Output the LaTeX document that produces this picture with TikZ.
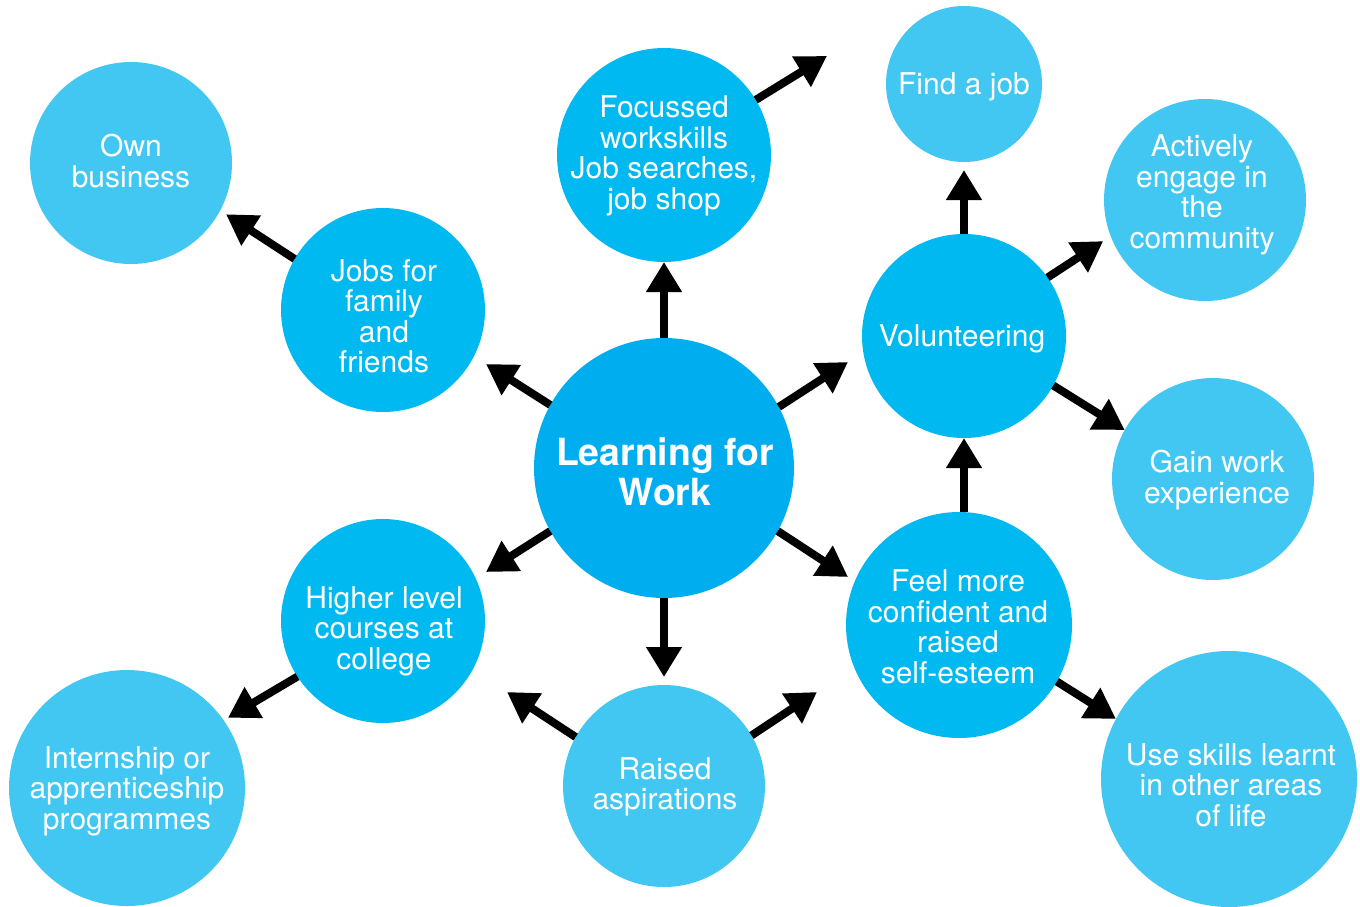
\documentclass[tikz,border=0pt]{standalone}
\usepackage{fontspec}
\setmainfont{TeX Gyre Heros}
\usetikzlibrary{arrows.meta}
\definecolor{cmain}{HTML}{00AEEF}
\definecolor{cinner}{HTML}{00B9F1}
\definecolor{couter}{HTML}{42C7F3}
\tikzset{
  bub/.style={circle, inner sep=0pt, outer sep=0pt, minimum size=#1},
  inner/.style={fill=cinner},
  outer/.style={fill=couter},
  txt/.style={text=white, align=center, inner sep=0pt, font=\fontsize{30}{30.5}\selectfont},
  arr/.style={line width=8pt, -{Triangle[length=30pt,width=34pt]}}
}
\begin{document}
\begin{tikzpicture}[x=1pt,y=-1pt]
\useasboundingbox (0,0) rectangle (1360,906);
% circles
\node[bub=260pt, fill=cmain] (lfw) at (664,468) {};
\node[bub=214pt, inner] (foc) at (664,155) {};
\node[bub=156pt, outer] (find) at (964,84) {};
\node[bub=202pt, outer] (act) at (1205,200) {};
\node[bub=204pt, inner] (vol) at (964,336) {};
\node[bub=202pt, outer] (gain) at (1213,479) {};
\node[bub=226pt, inner] (feel) at (959,625) {};
\node[bub=256pt, outer] (use) at (1229,779) {};
\node[bub=202pt, outer] (rais) at (664,786) {};
\node[bub=204pt, inner] (high) at (383,621) {};
\node[bub=236pt, outer] (intern) at (127,788) {};
\node[bub=204pt, inner] (jobs) at (383,310) {};
\node[bub=202pt, outer] (own) at (131,163) {};
% texts
\node[txt, font=\bfseries\fontsize{37.4}{40}\selectfont] (tlfw) at (665,472) {Learning for\\Work};
\node[txt] (tfoc) at (664,156) {Focussed\\workskills\\Job searches,\\job shop};
\node[txt] (tfind) at (964,87) {Find a job};
\node[txt] (tact) at (1202,195) {Actively\\engage in\\the\\community};
\node[txt] (tvol) at (962,339) {Volunteering};
\node[txt] (tgain) at (1217,480) {Gain work\\experience};
\node[txt] (tfeel) at (958,627) {Feel more\\confident and\\raised\\self-esteem};
\node[txt] (tuse) at (1231,785) {Use skills learnt\\in other areas\\of life};
\node[txt] (trais) at (665,787) {Raised\\aspirations};
\node[txt] (thigh) at (384,631) {Higher level\\courses at\\college};
\node[txt] (tintern) at (127,791) {Internship or\\apprenticeship\\programmes};
\node[txt] (tjobs) at (384,316) {Jobs for\\family\\and\\friends};
\node[txt] (town) at (131,161) {Own\\business};
% free tips
\coordinate (t2) at (848,362);
\coordinate (t3) at (848,577);
\coordinate (t5) at (486,572);
\coordinate (t6) at (486,364);
\coordinate (t7) at (827,56);
\coordinate (t10) at (507,692);
\coordinate (t11) at (817,692);
% arrows
\draw[arr] (lfw.north) -- (foc.south);
\draw[arr] (lfw.28) -- (t2);
\draw[arr] (lfw.-29) -- (t3);
\draw[arr, shorten >=8pt] (lfw.south) -- (rais.north);
\draw[arr] (lfw.209) -- (t5);
\draw[arr] (lfw.151) -- (t6);
\draw[arr] (foc.31) -- (t7);
\draw[arr, shorten >=7pt] (jobs.150) -- (own.-28);
\draw[arr, shorten >=5pt] (high.213) -- (intern.35);
\draw[arr] (rais.151) -- (t10);
\draw[arr] (rais.30) -- (t11);
\draw[arr, shorten >=8pt] (vol.north) -- (find.south);
\draw[arr, shorten >=9pt] (vol.35) -- (act.201);
\draw[arr] (vol.-29) -- (gain.151);
\draw[arr] (vol.south |- feel.north) -- (vol.south);
\draw[arr] (feel.-30) -- (use.152);
\end{tikzpicture}
\end{document}
